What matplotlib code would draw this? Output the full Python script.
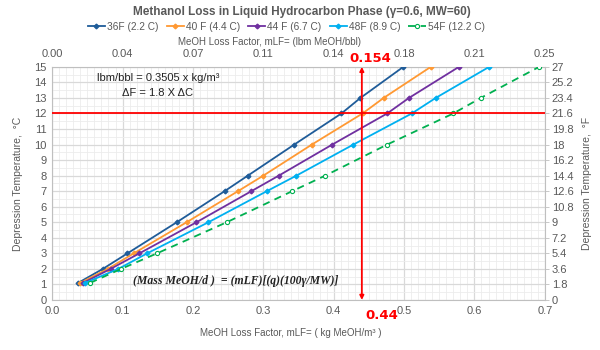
import numpy as np
import matplotlib
matplotlib.use("Agg")
import matplotlib.pyplot as plt
from matplotlib.ticker import MultipleLocator

plt.rcParams['font.family'] = ['Liberation Sans Narrow', 'Liberation Sans', 'DejaVu Sans']

# ---------------------------------------------------------------------------
# Data
# ---------------------------------------------------------------------------
dep_c = [1.1, 2, 3, 5, 7, 8, 10, 12, 13, 15]          # depression temperature, °C

mlf_36f = [0.037, 0.072, 0.107, 0.177, 0.245, 0.278, 0.344, 0.411, 0.438, 0.499]
mlf_40f = [0.040, 0.079, 0.116, 0.191, 0.264, 0.300, 0.369, 0.441, 0.471, 0.538]
mlf_44f = [0.044, 0.083, 0.124, 0.205, 0.283, 0.322, 0.398, 0.476, 0.507, 0.578]
mlf_48f = [0.047, 0.094, 0.135, 0.222, 0.305, 0.347, 0.428, 0.511, 0.545, 0.621]
mlf_54f = [0.054, 0.098, 0.149, 0.248, 0.341, 0.388, 0.476, 0.570, 0.609, 0.692]

series_labels = ['36F (2.2 C)', '40 F (4.4 C)', '44 F (6.7 C)', '48F (8.9 C)', '54F (12.2 C)']

x_ticks = [0.0, 0.1, 0.2, 0.3, 0.4, 0.5, 0.6, 0.7]
y_ticks = list(range(0, 16))
lbm_per_kg = 0.3505      # lbm/bbl per kg/m3
f_per_c = 1.8            # dF per dC

sel_mlf = 0.44           # read-off point
sel_dep = 12

# ---------------------------------------------------------------------------
# Figure
# ---------------------------------------------------------------------------
fig = plt.figure(figsize=(6, 3.5), dpi=100)
ax = fig.add_axes([0.087, 0.143, 0.821, 0.666])

grey = '#595959'
major_c = '#d9d9d9'
minor_c = '#ececec'

colors = ['#1f5c99', '#ff9933', '#7030a0', '#00b0f0', '#00b050']
all_mlf = [mlf_36f, mlf_40f, mlf_44f, mlf_48f, mlf_54f]
for i, (xs, lab, c) in enumerate(zip(all_mlf, series_labels, colors)):
    if i == 4:
        ax.plot(xs, dep_c, color=c, lw=1.3, ls=(0, (4, 3)), marker='o', ms=3,
                mfc='white', mec=c, mew=0.8, label=lab, zorder=3)
    else:
        ax.plot(xs, dep_c, color=c, lw=1.3, marker='D', ms=2.4, label=lab, zorder=3)

ax.set_xlim(0, 0.7)
ax.set_ylim(0, 15)
ax.set_xticks(x_ticks)
ax.set_xticklabels([f'{v:.1f}' for v in x_ticks])
ax.set_yticks(y_ticks)
ax.xaxis.set_minor_locator(MultipleLocator(0.01))
ax.yaxis.set_minor_locator(MultipleLocator(0.5))
ax.grid(which='major', color=major_c, lw=0.9, zorder=0)
ax.grid(which='minor', color=minor_c, lw=0.6, zorder=0)
ax.set_axisbelow(True)
ax.tick_params(which='both', length=0, labelsize=8, colors=grey, pad=4)
for s in ax.spines.values():
    s.set_color('#bfbfbf')
    s.set_linewidth(0.8)

ax.set_xlabel('MeOH Loss Factor, mLF= ( kg MeOH/m³ )', fontsize=7, color=grey)
ax.xaxis.set_label_coords(0.485, -0.14)
ax.xaxis.label.set_va('center')
ax.set_ylabel('Depression Temperature,  °C', fontsize=7.5, color=grey, labelpad=8)

# top axis: lbm/bbl
axt = ax.twiny()
axt.set_xlim(ax.get_xlim())
axt.set_xticks(x_ticks)
axt.set_xticklabels([f'{v * lbm_per_kg:.2f}' for v in x_ticks])
axt.tick_params(length=0, labelsize=8, colors=grey, pad=5.5)
axt.set_xlabel('MeOH Loss Factor, mLF= (lbm MeOH/bbl)', fontsize=7, color=grey)
axt.xaxis.set_label_coords(0.442, 1.107)
axt.xaxis.label.set_va('center')
for s in axt.spines.values():
    s.set_visible(False)

# right axis: °F
axr = ax.twinx()
axr.set_ylim(ax.get_ylim())
axr.set_yticks(y_ticks)
axr.set_yticklabels([f'{round(v * f_per_c, 1):g}' for v in y_ticks])
axr.tick_params(length=3, width=0.6, color='#bfbfbf', labelsize=8, colors=grey, pad=2)
axr.set_ylabel('Depression Temperature,  °F', fontsize=7.5, color=grey, labelpad=6)
for s in axr.spines.values():
    s.set_visible(False)

# red read-off lines
ax.axhline(sel_dep, color='red', lw=1.3, zorder=4)
ax.annotate('', xy=(sel_mlf, 15), xytext=(sel_mlf, 0),
            arrowprops=dict(arrowstyle='<|-|>', color='red', lw=1.3,
                            mutation_scale=6, shrinkA=0, shrinkB=0), zorder=4)
ax.text(0.452, 15.55, f'{sel_mlf * lbm_per_kg:.3f}', color='red', fontsize=9.5,
        fontweight='bold', ha='center', va='center', family='DejaVu Sans')
ax.text(0.468, -0.6, f'{sel_mlf:.2f}', color='red', fontsize=9.5,
        fontweight='bold', ha='center', va='top', family='DejaVu Sans')

# notes
ax.text(0.150, 14.3, 'lbm/bbl = 0.3505 x kg/m³', fontsize=8, ha='center', va='center',
        color='#222222')
ax.text(0.150, 13.3, 'ΔF = 1.8 X ΔC', fontsize=8, ha='center', va='center',
        color='#222222')
ax.text(0.115, 1.25, '(Mass MeOH/d )  = (mLF)[(q)(100γ/MW)]',
        fontsize=8.5, ha='left', va='center', color='#222222',
        family=['Liberation Serif', 'DejaVu Serif'], fontweight='bold', style='italic')

fig.text(0.503, 0.966, 'Methanol Loss in Liquid Hydrocarbon Phase (γ=0.6, MW=60)',
         ha='center', va='center', fontsize=8.5, color=grey, fontweight='bold')
fig.legend(*ax.get_legend_handles_labels(), loc='center', bbox_to_anchor=(0.477, 0.923),
           ncol=5, frameon=False, fontsize=7.3, handlelength=1.7, handletextpad=0.2,
           columnspacing=0.8, labelcolor=grey)

fig.savefig('out.png', dpi=100)
